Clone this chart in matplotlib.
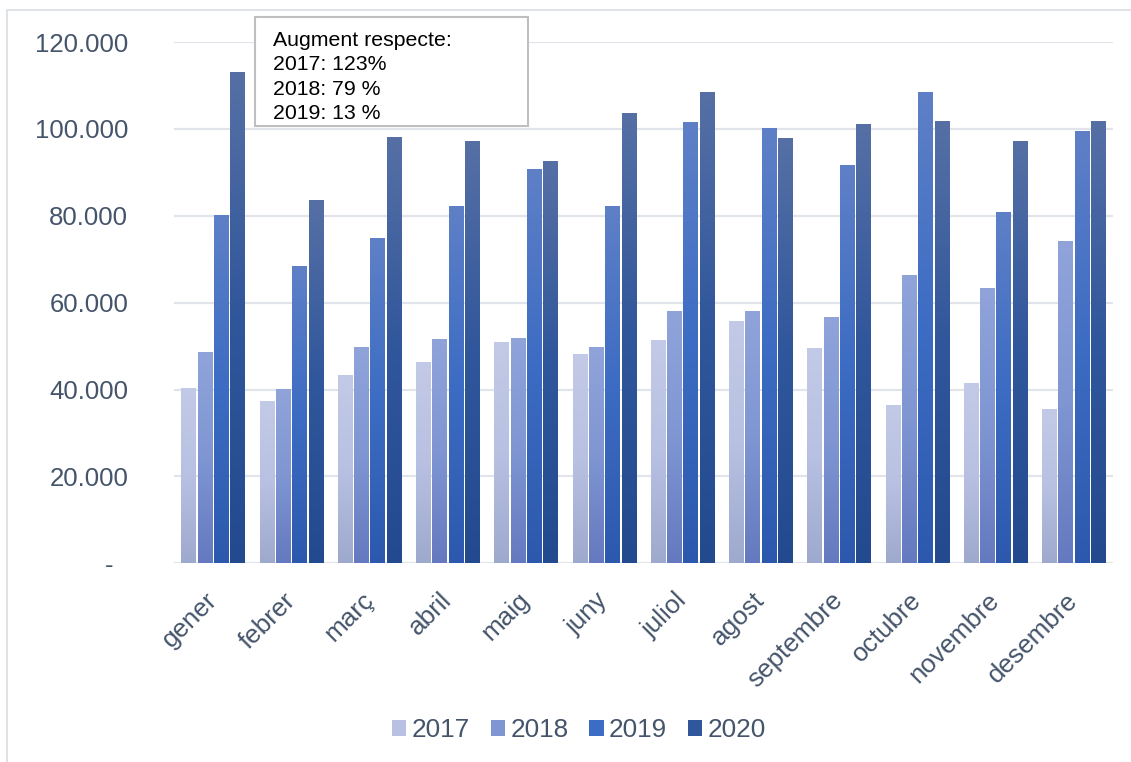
import numpy as np
import matplotlib.pyplot as plt
from matplotlib.colors import LinearSegmentedColormap
from matplotlib.patches import Rectangle, Patch
from matplotlib.ticker import FuncFormatter

plt.rcParams['font.family'] = ['Liberation Sans', 'DejaVu Sans']

# Data
MONTHS = ["gener", "febrer", "març", "abril", "maig", "juny",
          "juliol", "agost", "septembre", "octubre", "novembre", "desembre"]
YEARS = ["2017", "2018", "2019", "2020"]
V2017 = [40300, 37300, 43300, 46300, 50900, 48100, 51500, 55700, 49500, 36400, 41400, 35500]
V2018 = [48600, 40100, 49800, 51600, 51800, 49800, 58000, 58000, 56600, 66300, 63300, 74100]
V2019 = [80100, 68400, 74800, 82200, 90700, 82200, 101500, 100200, 91800, 108600, 80800, 99500]
V2020 = [113200, 83600, 98100, 97100, 92500, 103600, 108600, 97800, 101200, 101700, 97100, 101900]
NOTE_LINES = ["Augment respecte:", "2017: 123%", "2018: 79 %", "2019: 13 %"]

# bottom -> middle -> top gradient stops per series
GRADIENTS = {
    "2017": ["#9ea9ce", "#b8c1e2", "#c3cae7"],
    "2018": ["#6479bf", "#7f96d3", "#90a4da"],
    "2019": ["#2c59ad", "#3c6cc3", "#5f80c7"],
    "2020": ["#234a8f", "#30569b", "#5670a5"],
}
TEXT_COLOR = "#44546a"
GRID_COLOR = "#e1e4ea"

fig = plt.figure(figsize=(11.31, 7.62), dpi=100)
ax = fig.add_axes([174 / 1131, 1 - 563.3 / 762, (1113 - 174) / 1131, (563.3 - 42) / 762])

x = np.arange(len(MONTHS))
pitch = 0.208
width = 0.186
series = [V2017, V2018, V2019, V2020]
grad = np.linspace(0, 1, 256).reshape(-1, 1)

for k, (year, vals) in enumerate(zip(YEARS, series)):
    cmap = LinearSegmentedColormap.from_list(year, GRADIENTS[year])
    bars = ax.bar(x + (k - 1.5) * pitch, vals, width=width, color="none",
                  edgecolor="none", zorder=2)
    for b in bars:
        x0, y0 = b.get_x(), b.get_y()
        im = ax.imshow(grad, cmap=cmap, aspect="auto", zorder=2, origin="lower",
                       extent=[x0, x0 + b.get_width(), y0, y0 + b.get_height()],
                       interpolation="bilinear")
        im.set_clip_path(b)

ax.set_xlim(-0.5, len(MONTHS) - 0.5)
ax.set_ylim(0, 120000)
ax.set_yticks(np.arange(0, 120001, 20000))
ax.yaxis.set_major_formatter(FuncFormatter(
    lambda v, p: "-  " if v == 0 else f"{int(v):,}".replace(",", ".")))
ax.set_xticks(x)
ax.set_xticklabels(MONTHS)
ax.tick_params(axis="y", length=0, pad=33, labelsize=18.5, labelcolor=TEXT_COLOR)
ax.tick_params(axis="x", length=0, pad=24, labelsize=18.8, labelcolor=TEXT_COLOR)
plt.setp(ax.get_xticklabels(), rotation=45, ha="right", va="center",
         rotation_mode="anchor")

ax.grid(axis="y", color=GRID_COLOR, linewidth=1.6, zorder=0)
ax.set_axisbelow(True)
for s in ax.spines.values():
    s.set_visible(False)

# annotation box
fig.patches.append(Rectangle((255 / 1131, 1 - 126 / 762), 273 / 1131, 109 / 762,
                             transform=fig.transFigure, facecolor="white",
                             edgecolor="#bfbfbf", linewidth=1.5, zorder=5))
fig.text(273 / 1131, 1 - 31 / 762, "\n".join(NOTE_LINES), fontsize=15.3,
         color="black", va="top", ha="left", linespacing=1.36, zorder=6)

# outer chart border
fig.patches.append(Rectangle((7 / 1131, -0.05), 1.2, 1 - 10 / 762 + 0.05,
                             transform=fig.transFigure, fill=False,
                             edgecolor="#d9dde3", linewidth=1.2, zorder=0))

handles = [Patch(facecolor=GRADIENTS[y][1], edgecolor="none") for y in YEARS]
leg = fig.legend(handles, YEARS, loc="center", bbox_to_anchor=(579 / 1131, 1 - 730 / 762),
                 ncol=4, frameon=False, fontsize=18.8, handlelength=0.55,
                 handleheight=0.55, handletextpad=0.2, columnspacing=0.8)
for t in leg.get_texts():
    t.set_color(TEXT_COLOR)

fig.savefig("out.png", dpi=100)
